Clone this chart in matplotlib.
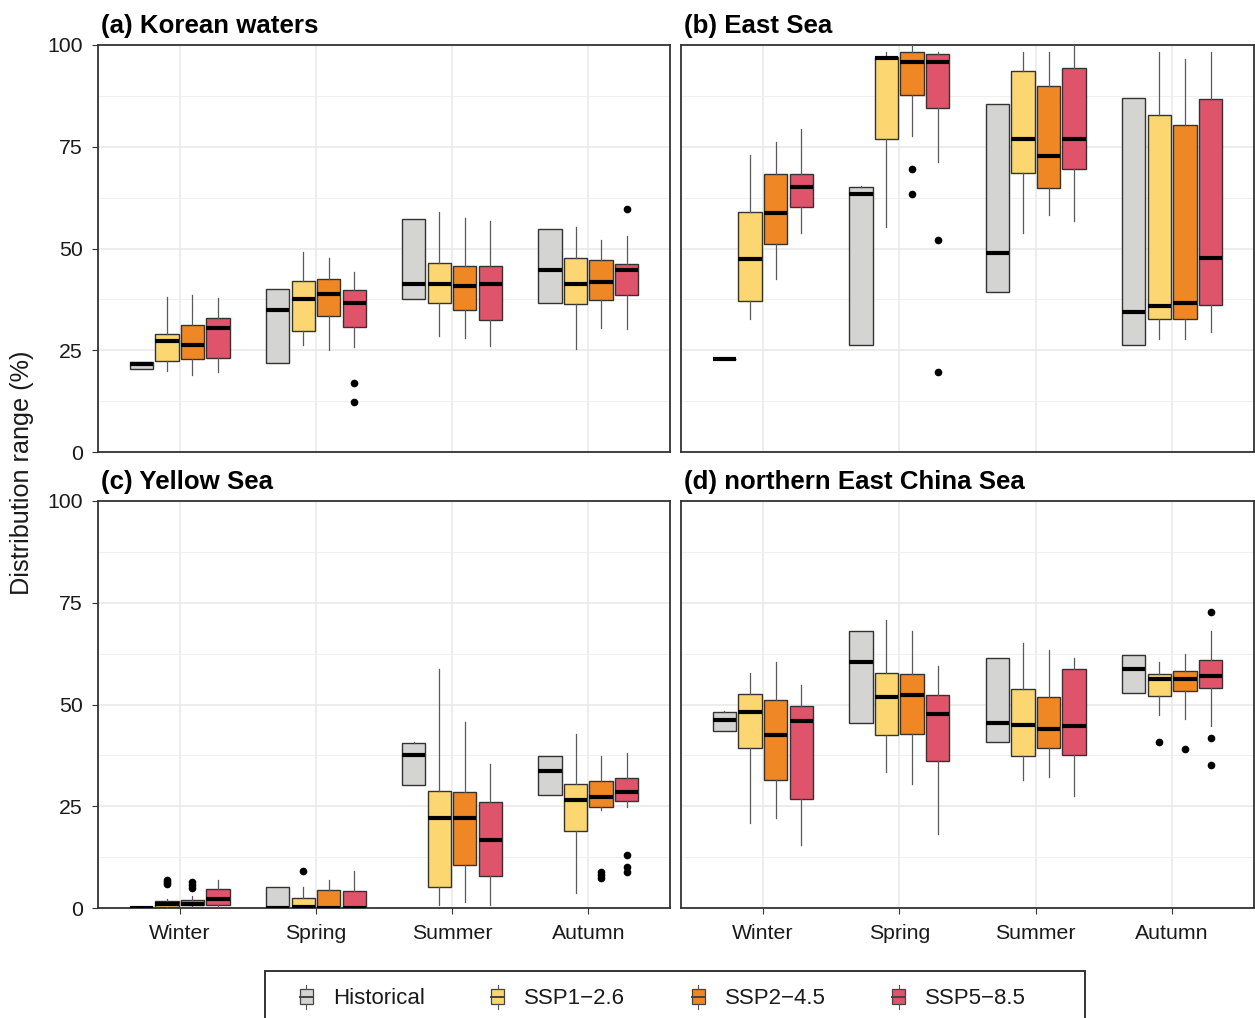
import matplotlib
matplotlib.use("Agg")
import matplotlib.pyplot as plt
from matplotlib.legend_handler import HandlerBase
from matplotlib.patches import Rectangle, Patch
from matplotlib.lines import Line2D
from matplotlib.ticker import MultipleLocator
import matplotlib.transforms as mtransforms

plt.rcParams['font.family'] = ['Liberation Sans', 'DejaVu Sans']

seasons = ["Winter", "Spring", "Summer", "Autumn"]
scenarios = ["Historical", "SSP1\u22122.6", "SSP2\u22124.5", "SSP5\u22128.5"]
colors = ["#d4d4d2", "#fcd670", "#ef8824", "#e0546b"]
y_ticks = [0, 25, 50, 75, 100]

# ---- (a) Korean waters : rows = scenario, cols = season ----
kw_q1 = [[20.5, 21.8, 37.6, 36.7], [22.3, 29.7, 36.5, 36.4], [22.8, 33.4, 34.8, 37.3], [23.2, 30.8, 32.5, 38.5]]
kw_med = [[21.5, 34.8, 41.2, 44.6], [27.2, 37.7, 41.2, 41.2], [26.4, 38.7, 40.9, 41.7], [30.4, 36.7, 41.2, 44.8]]
kw_q3 = [[22.1, 40.1, 57.2, 54.8], [29.0, 42.0, 46.4, 47.7], [31.1, 42.6, 45.8, 47.1], [32.9, 39.8, 45.7, 46.2]]
kw_lo = [[20.5, 21.8, 37.6, 36.7], [20.0, 26.3, 28.5, 25.2], [18.8, 25.0, 27.9, 30.5], [19.6, 25.7, 26.0, 30.1]]
kw_hi = [[22.1, 40.1, 57.2, 54.8], [38.1, 49.1, 58.9, 55.2], [38.5, 47.6, 57.4, 52.0], [37.8, 44.2, 56.7, 53.0]]
kw_out = [[[], [], [], []], [[], [], [], []], [[], [], [], []], [[], [17.0, 12.3], [], [59.8]]]

# ---- (b) East Sea ----
es_q1 = [[22.9, 26.3, 39.2, 26.2], [37.2, 76.8, 68.5, 32.8], [51.0, 87.6, 64.8, 32.8], [60.1, 84.5, 69.6, 36.1]]
es_med = [[22.9, 63.3, 48.8, 34.3], [47.3, 96.9, 76.8, 35.8], [58.6, 95.9, 72.8, 36.5], [65.0, 95.9, 76.8, 47.7]]
es_q3 = [[22.9, 65.0, 85.6, 87.1], [58.9, 97.1, 93.5, 82.7], [68.2, 98.4, 89.9, 80.3], [68.2, 97.9, 94.3, 86.7]]
es_lo = [[22.9, 26.3, 39.2, 26.2], [32.8, 55.3, 53.7, 27.7], [42.4, 77.7, 58.3, 27.7], [53.8, 71.3, 56.7, 29.4]]
es_hi = [[22.9, 65.3, 85.6, 87.1], [72.9, 98.2, 98.2, 98.2], [76.1, 100.0, 98.2, 96.6], [79.3, 98.2, 100.0, 98.2]]
es_out = [[[], [], [], []], [[], [], [], []], [[], [69.6, 63.3], [], []], [[], [52.0, 19.6], [], []]]

# ---- (c) Yellow Sea ----
ys_q1 = [[0.0, 0.0, 30.1, 27.8], [0.3, 0.0, 5.1, 18.8], [0.7, 0.0, 10.6, 24.9], [0.7, 0.0, 7.9, 26.3]]
ys_med = [[0.0, 0.0, 37.6, 33.7], [0.9, 0.2, 22.2, 26.6], [1.1, 0.0, 22.2, 27.3], [2.3, 0.0, 16.8, 28.6]]
ys_q3 = [[0.3, 5.2, 40.6, 37.4], [1.6, 2.4, 28.7, 30.5], [2.0, 4.5, 28.6, 31.3], [4.6, 4.1, 26.1, 32.0]]
ys_lo = [[0.0, 0.0, 30.1, 27.8], [0.0, 0.0, 0.8, 3.8], [0.0, 0.0, 1.5, 24.2], [0.0, 0.0, 0.8, 24.9]]
ys_hi = [[0.3, 5.2, 40.8, 37.4], [2.1, 5.2, 58.8, 42.7], [2.9, 6.8, 45.6, 37.4], [6.8, 9.0, 35.3, 38.2]]
ys_out = [[[], [], [], []], [[5.8, 6.4, 7.0], [9.1], [], []], [[4.9, 5.6, 6.3], [], [], [7.4, 8.0, 8.8]], [[], [], [], [8.9, 10.0, 12.9]]]

# ---- (d) northern East China Sea ----
ec_q1 = [[43.5, 45.4, 40.8, 52.9], [39.2, 42.6, 37.3, 52.0], [31.4, 42.8, 39.2, 53.2], [26.7, 36.2, 37.7, 54.0]]
ec_med = [[46.2, 60.5, 45.5, 58.6], [48.2, 51.8, 45.0, 56.3], [42.5, 52.3, 44.1, 56.3], [45.9, 47.7, 44.6, 57.1]]
ec_q3 = [[48.2, 68.0, 61.4, 62.2], [52.7, 57.8, 53.7, 57.6], [51.0, 57.6, 51.8, 58.3], [49.7, 52.4, 58.6, 60.9]]
ec_lo = [[43.5, 45.4, 40.8, 52.9], [21.0, 33.3, 31.4, 47.4], [22.0, 30.4, 32.3, 46.4], [15.6, 18.3, 27.6, 44.6]]
ec_hi = [[48.4, 68.1, 61.5, 62.2], [57.7, 70.8, 65.1, 60.4], [60.4, 68.0, 63.3, 62.3], [54.7, 59.4, 61.4, 68.0]]
ec_out = [[[], [], [], []], [[], [], [], [40.8]], [[], [], [], [39.0]], [[], [], [], [72.7, 41.8, 35.2]]]

panels = [
    ("(a) Korean waters", kw_q1, kw_med, kw_q3, kw_lo, kw_hi, kw_out),
    ("(b) East Sea", es_q1, es_med, es_q3, es_lo, es_hi, es_out),
    ("(c) Yellow Sea", ys_q1, ys_med, ys_q3, ys_lo, ys_hi, ys_out),
    ("(d) northern East China Sea", ec_q1, ec_med, ec_q3, ec_lo, ec_hi, ec_out),
]

W, H = 1255, 1018
fig = plt.figure(figsize=(W / 100, H / 100), dpi=100)

rects = [
    (98, 45, 670, 452),
    (681, 45, 1254, 452),
    (98, 501, 670, 908),
    (681, 501, 1254, 908),
]

EDGE = "#333333"
dodge = 0.1875
bw = 0.17

for idx, (title, q1, med, q3, lo, hi, out) in enumerate(panels):
    x0, y0, x1, y1 = rects[idx]
    ax = fig.add_axes([x0 / W, 1 - y1 / H, (x1 - x0) / W, (y1 - y0) / H])
    ax.set_axisbelow(True)
    for j in range(4):
        stats = []
        pos = []
        for s in range(4):
            stats.append(dict(q1=q1[j][s], med=med[j][s], q3=q3[j][s],
                              whislo=lo[j][s], whishi=hi[j][s], fliers=out[j][s]))
            pos.append(s + 1 + (j - 1.5) * dodge)
        ax.bxp(stats, positions=pos, widths=bw, patch_artist=True, showcaps=False,
               boxprops=dict(facecolor=colors[j], edgecolor=EDGE, linewidth=1.0),
               medianprops=dict(color="black", linewidth=3.0, solid_capstyle="butt"),
               whiskerprops=dict(color="#5a5a5a", linewidth=0.9),
               flierprops=dict(marker="o", markersize=4.5, markerfacecolor="black",
                               markeredgecolor="black"),
               manage_ticks=False, zorder=3)
    ax.set_xlim(0.4, 4.6)
    ax.set_ylim(0, 100)
    ax.set_xticks(range(1, 5))
    ax.set_yticks(y_ticks)
    ax.yaxis.set_minor_locator(MultipleLocator(12.5))
    ax.grid(True, which="major", color="#e8e8e8", linewidth=1.1)
    ax.grid(True, which="minor", axis="y", color="#efefef", linewidth=0.7)
    ax.tick_params(which="minor", length=0)
    for sp in ax.spines.values():
        sp.set_color(EDGE)
        sp.set_linewidth(1.3)
    ax.tick_params(axis="both", which="major", direction="out", length=4.3, width=0.8,
                   color=EDGE, labelsize=15.3, labelcolor="#1a1a1a")
    ax.tick_params(axis="y", pad=6.5)
    ax.tick_params(axis="x", pad=7.5)
    if idx in (2, 3):
        ax.set_xticklabels(seasons)
    else:
        ax.tick_params(axis="x", length=0, labelbottom=False)
    if idx in (0, 2):
        ax.set_yticklabels([str(v) for v in y_ticks])
    else:
        ax.tick_params(axis="y", length=0, labelleft=False)
    off = mtransforms.offset_copy(ax.transAxes, fig=fig, x=2, y=9.0, units="points")
    ax.text(0, 1, title, transform=off, ha="left", va="baseline",
            fontsize=18.6, fontweight="bold", color="black")

fig.text(22 / W, 1 - 473 / H, "Distribution range (%)", rotation=90,
         ha="center", va="center", fontsize=18.2, color="#1a1a1a")


class BoxKey(HandlerBase):
    def create_artists(self, legend, orig_handle, xdescent, ydescent, width, height,
                       fontsize, trans):
        fc = orig_handle.get_facecolor()
        bx = -xdescent
        by = -ydescent
        r = Rectangle((bx, by), width, height, facecolor=fc, edgecolor="#444444",
                      linewidth=0.9, transform=trans)
        m = Line2D([bx, bx + width], [by + height / 2] * 2, color="#444444",
                   linewidth=1.4, transform=trans)
        cx = bx + width / 2
        w1 = Line2D([cx, cx], [by + height, by + height + 0.3 * height], color="#555555",
                    linewidth=0.8, transform=trans)
        w2 = Line2D([cx, cx], [by, by - 0.3 * height], color="#555555",
                    linewidth=0.8, transform=trans)
        return [r, w1, w2, m]


handles = [Patch(facecolor=c) for c in colors]
fig.legend(handles, scenarios, loc="center left",
           bbox_to_anchor=(300 / W, 1 - 999 / H), ncol=4, frameon=False,
           fontsize=16, handlelength=0.58, handleheight=0.66, handletextpad=0.9,
           columnspacing=3.0, borderpad=0, borderaxespad=0,
           handler_map={Patch: BoxKey()}, labelcolor="#1a1a1a")

frame = Rectangle((265 / W, 1 - 1040 / H), 820 / W, (1040 - 971) / H,
                  transform=fig.transFigure, facecolor="none", edgecolor=EDGE,
                  linewidth=1.4, clip_on=False)
fig.patches.append(frame)

fig.savefig("out.png", dpi=100)
